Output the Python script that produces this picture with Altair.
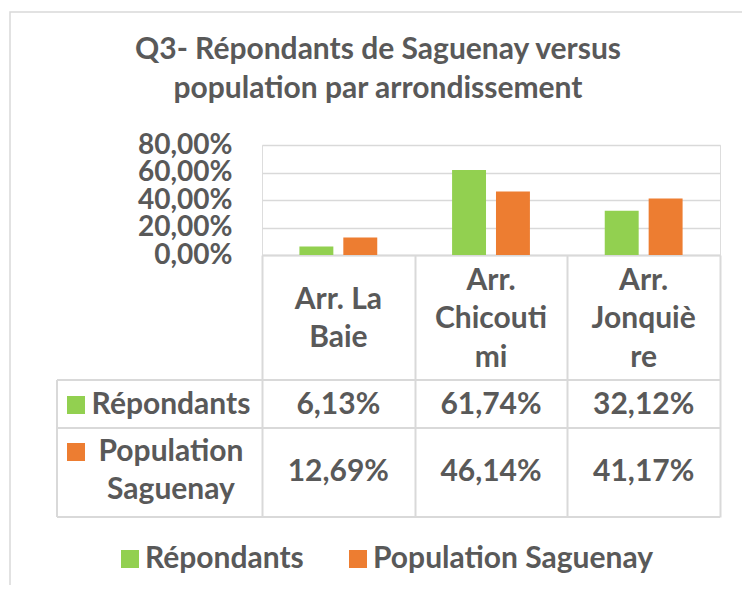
import altair as alt
import pandas as pd

# ---------------- data ----------------
categories = ["Arr. La Baie", "Arr. Chicoutimi", "Arr. Jonquière"]
category_lines = [["Arr. La", "Baie"], ["Arr.", "Chicouti", "mi"], ["Arr.", "Jonquiè", "re"]]
series = ["Répondants", "Population Saguenay"]
series_lines = [["Répondants"], ["Population", "Saguenay"]]
repondants = [0.0613, 0.6174, 0.3212]
population = [0.1269, 0.4614, 0.4117]
y_ticks = [0, 0.2, 0.4, 0.6, 0.8]
colors = ["#92D050", "#ED7D31"]
title_lines = ["Q3- Répondants de Saguenay versus", "population par arrondissement"]

rows = []
for i, c in enumerate(categories):
    rows.append({"category": c, "series": series[0], "value": repondants[i]})
    rows.append({"category": c, "series": series[1], "value": population[i]})
df = pd.DataFrame(rows)
cat_data = alt.Data(values=[{"category": c, "lines": l} for c, l in zip(categories, category_lines)])
ser_data = alt.Data(values=[{"series": s, "lines": l} for s, l in zip(series, series_lines)])
title_data = alt.Data(values=[{"t": title_lines}])
one = alt.Data(values=[{"k": 0}])

# ---------------- style ----------------
FONT = "Lato"
TXT = "#595959"
GRID = "#D9D9D9"
FS = 30
LH = 38.5
W, H = 458, 110

pct_expr = "replace(format(datum.value, '.2%'), '.', ',')"
color_scale = alt.Scale(domain=series, range=colors)
x_enc = alt.X("category:N", sort=categories, title=None,
              scale=alt.Scale(paddingInner=0, paddingOuter=0),
              axis=alt.Axis(labels=False, grid=False, tickBand="extent", tickSize=262,
                            tickColor=GRID, tickWidth=2, domainColor=GRID, domainWidth=2))

frame = alt.Chart(one).mark_rect(fillOpacity=0, stroke=GRID, strokeWidth=1.5).encode(
    x=alt.value(-252), x2=alt.value(483), y=alt.value(-133), y2=alt.value(480))

title = alt.Chart(title_data).mark_text(font=FONT, fontSize=FS, fontWeight="bold", color=TXT,
                                        lineHeight=LH, baseline="middle").encode(
    x=alt.value(116), y=alt.value(-95), text="t:N")

bars = alt.Chart(df).mark_bar().encode(
    x=x_enc,
    xOffset=alt.XOffset("series:N", sort=series,
                        scale=alt.Scale(paddingInner=0.227, paddingOuter=0.852)),
    y=alt.Y("value:Q", title=None, scale=alt.Scale(domain=[0, 0.8]),
            axis=alt.Axis(values=y_ticks, labelExpr=pct_expr, domain=False, ticks=False,
                          labelOverlap=False,
                          gridColor=GRID, gridWidth=1.5, labelFont=FONT, labelFontSize=28,
                          labelFontWeight="bold", labelColor=TXT, labelPadding=30)),
    color=alt.Color("series:N", sort=series, scale=color_scale,
                    legend=alt.Legend(title=None, orient="none", legendX=-147, legendY=399,
                                      direction="horizontal", symbolType="square",
                                      symbolSize=324, symbolStrokeWidth=0,
                                      labelFont=FONT, labelFontSize=FS, labelFontWeight="bold",
                                      labelColor=TXT, labelOffset=0, columnPadding=39,
                                      labelLimit=0)),
)

# header cells: multi-line labels centred vertically in the header row
header = alt.Chart(cat_data).transform_calculate(
    ypix=f"174 - (length(datum.lines) - 1) * {LH / 2}"
).mark_text(font=FONT, fontSize=FS, fontWeight="bold", color=TXT,
            lineHeight=LH, baseline="middle").encode(
    x=alt.X("category:N", sort=categories),
    y=alt.Y("ypix:Q", scale=None, axis=None),
    text="lines:N")

values = alt.Chart(df).transform_calculate(label=pct_expr).mark_text(
    font=FONT, fontSize=FS, fontWeight="bold", color=TXT, baseline="middle").encode(
    x=alt.X("category:N", sort=categories),
    y=alt.Y("series:N", sort=series, scale=alt.Scale(type="point", range=[260, 327], padding=0), axis=None),
    text="label:N")

label_scale = alt.Scale(type="point", range=[260, 307], padding=0)
row_labels = alt.Chart(ser_data).mark_text(font=FONT, fontSize=FS, fontWeight="bold", color=TXT,
                                           lineHeight=38, baseline="middle").encode(
    x=alt.value(-91),
    y=alt.Y("series:N", sort=series, scale=label_scale, axis=None),
    text="lines:N")

squares = alt.Chart(ser_data).mark_square(size=324, opacity=1, filled=True).encode(
    x=alt.value(-186),
    y=alt.Y("series:N", sort=series, scale=label_scale, axis=None),
    color=alt.Color("series:N", sort=series, scale=color_scale, legend=None))

rule_style = dict(color=GRID, strokeWidth=2)
h1 = alt.Chart(one).mark_rule(**rule_style).encode(x=alt.value(-205), x2=alt.value(W), y=alt.value(235))
h2 = alt.Chart(one).mark_rule(**rule_style).encode(x=alt.value(-205), x2=alt.value(W), y=alt.value(283))
h3 = alt.Chart(one).mark_rule(**rule_style).encode(x=alt.value(-205), x2=alt.value(W), y=alt.value(372))
v1 = alt.Chart(one).mark_rule(**rule_style).encode(x=alt.value(-205), y=alt.value(235), y2=alt.value(372))

chart = alt.layer(frame, title, h1, h2, h3, v1, bars, header, values, row_labels, squares).resolve_scale(
    y="independent"
).properties(
    width=W, height=H,
    autosize=alt.AutoSizeParams(type="none"),
    padding={"left": 254, "top": 137, "right": 22, "bottom": 330},
).configure_view(stroke=None).configure(font=FONT)

chart.save("out.html", embed_options={"renderer": "svg", "actions": False})
